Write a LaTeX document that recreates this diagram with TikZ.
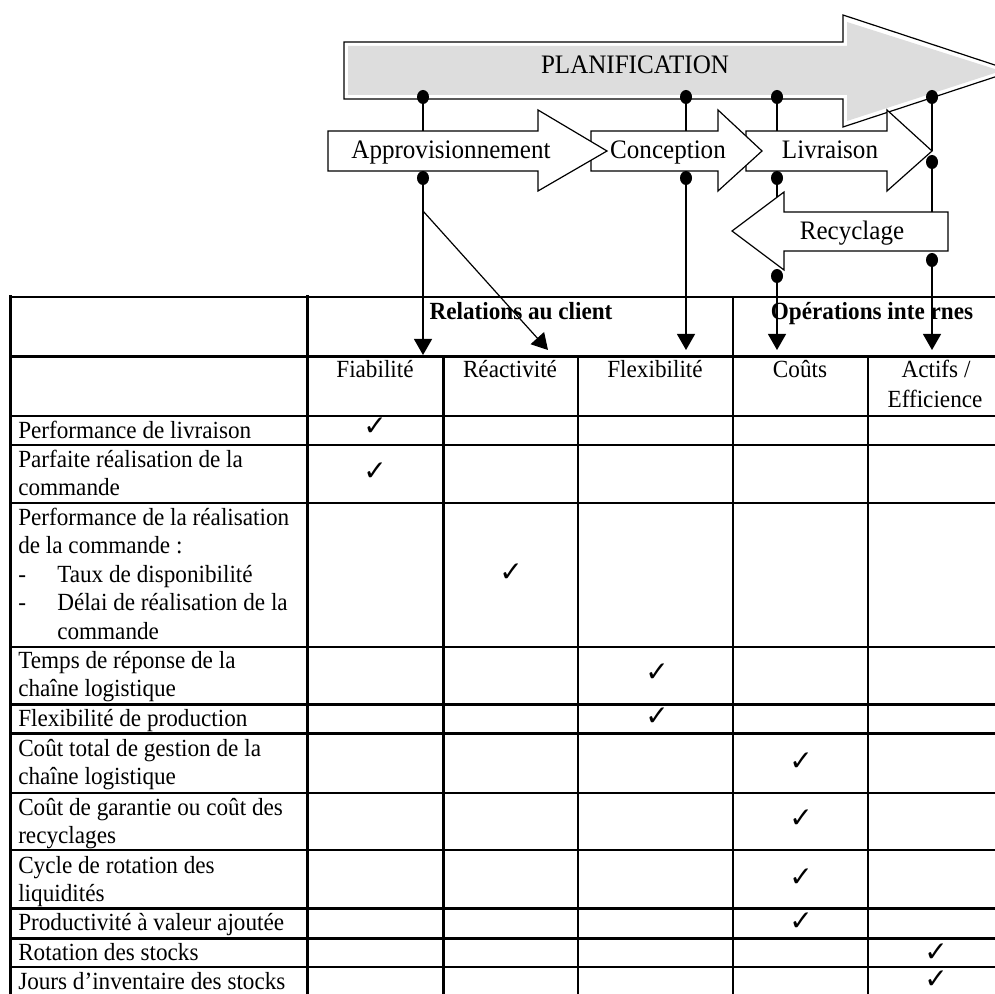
\documentclass[tikz,border=0pt]{standalone}
\usepackage{fontspec}
\setmainfont{Liberation Serif}[FakeStretch=0.94]
\newfontfamily\checkfont{DejaVu Sans}
\usetikzlibrary{arrows.meta,shapes.geometric}
\definecolor{planfill}{RGB}{221,221,221}

\begin{document}
\begin{tikzpicture}[x=0.75pt,y=-0.75pt,
  thinrule/.style={line width=1.5pt,line cap=rect},
  thickrule/.style={line width=2.25pt,line cap=rect},
  flowarrow/.style={draw=black,line width=0.9pt,fill=white,line join=miter},
  planarrow/.style={draw=black,line width=0.9pt,line join=miter},
  arrowtext/.style={inner sep=0pt,anchor=base,font=\fontsize{20}{24}\selectfont},
  cell/.style={inner sep=0pt,anchor=base west,font=\fontsize{18.5}{21}\selectfont},
  colhead/.style={inner sep=0pt,anchor=base,font=\fontsize{18.5}{21}\selectfont},
  grouphead/.style={inner sep=0pt,anchor=base,font=\bfseries\fontsize{18.5}{21}\selectfont},
  tick/.style={inner sep=0pt,font=\checkfont\fontsize{21}{21}\selectfont},
  joint/.style={ellipse,fill=black,inner sep=0pt,minimum width=9pt,minimum height=10.5pt},
  link/.style={line width=0.9pt},
  feed/.style={line width=0.9pt,-{Triangle[length=12pt,width=13.5pt]}},
]
\useasboundingbox (0,0) rectangle (995,994);
\clip (0,0) rectangle (995,994);

% ---------- table grid ----------
\foreach \yy in {297,416,445,503,647,793,850,967}
  \draw[thinrule] (10,\yy) -- (1002,\yy);
\foreach \yy in {357,704,733,908,938}
  \draw[thickrule] (10,\yy) -- (1002,\yy);
\draw[thickrule] (10,297) -- (10,1000);
\draw[thickrule] (307,297) -- (307,1000);
\draw[thickrule] (443,357) -- (443,1000);
\draw[thinrule] (578,357) -- (578,1000);
\draw[thinrule] (733,297) -- (733,1000);
\draw[thinrule] (868,357) -- (868,1000);
\draw[thinrule] (1002,297) -- (1002,1000);

% ---------- table headings ----------
\node[grouphead] (grpclient) at (521,320) {Relations au client};
\node[grouphead] (grpinternal) at (872,320) {Opérations inte rnes};
\node[colhead] (hfiab) at (375,378) {Fiabilité};
\node[colhead] (hreact) at (510,378) {Réactivité};
\node[colhead] (hflex) at (655,378) {Flexibilité};
\node[colhead] (hcout) at (800,378) {Coûts};
\node[colhead] (hactif) at (936,378) {Actifs /};
\node[colhead] (heff) at (935,407) {Efficience};

% ---------- indicators ----------
\node[cell] (t1) at (18,438) {Performance de livraison};
\node[cell] (t2a) at (18,467) {Parfaite réalisation de la};
\node[cell] (t2b) at (18,495.5) {commande};
\node[cell] (t3a) at (18,525) {Performance de la réalisation};
\node[cell] (t3b) at (18,553.5) {de la commande :};
\node[cell] (t3c) at (18,582) {-};
\node[cell] (t3d) at (57,582) {Taux de disponibilité};
\node[cell] (t3e) at (18,610.5) {-};
\node[cell] (t3f) at (57,610.5) {Délai de réalisation de la};
\node[cell] (t3g) at (57,639) {commande};
\node[cell] (t4a) at (18,668) {Temps de réponse de la};
\node[cell] (t4b) at (18,696.5) {chaîne logistique};
\node[cell] (t5) at (18,726) {Flexibilité de production};
\node[cell] (t6a) at (18,756) {Coût total de gestion de la};
\node[cell] (t6b) at (18,784.5) {chaîne logistique};
\node[cell] (t7a) at (18,815) {Coût de garantie ou coût des};
\node[cell] (t7b) at (18,843.5) {recyclages};
\node[cell] (t8a) at (18,873) {Cycle de rotation des};
\node[cell] (t8b) at (18,901.5) {liquidités};
\node[cell] (t9) at (18,930) {Productivité à valeur ajoutée};
\node[cell] (t10) at (18,960) {Rotation des stocks};
\node[cell] (t11) at (18,989) {Jours d’inventaire des stocks};

% ---------- ticks ----------
\node[tick] (k1) at (375,427) {✓};
\node[tick] (k2) at (375,472) {✓};
\node[tick] (k3) at (511,573) {✓};
\node[tick] (k4) at (657,673) {✓};
\node[tick] (k5) at (657,717) {✓};
\node[tick] (k6) at (801,762) {✓};
\node[tick] (k7) at (801,819) {✓};
\node[tick] (k8) at (801,878) {✓};
\node[tick] (k9) at (801,922) {✓};
\node[tick] (k10) at (936,953) {✓};
\node[tick] (k11) at (936,980) {✓};

% ---------- process arrows ----------
\fill[white] (344,42) -- (843,42) -- (843,15) -- (1013,71) -- (843,127) -- (843,99) -- (344,99) -- cycle;
\fill[planfill] (348,46) -- (847,46) -- (847,22) -- (1001,71) -- (847,121) -- (847,95) -- (348,95) -- cycle;
\draw[planarrow] (344,42) -- (843,42) -- (843,15) -- (1013,71) -- (843,127) -- (843,99) -- (344,99) -- cycle;
\node[arrowtext] (plan) at (635,74) {PLANIFICATION};

\draw[flowarrow] (746,131) -- (887,131) -- (887,110) -- (932,151) -- (887,191) -- (887,171) -- (746,171) -- cycle;
\draw[flowarrow] (591,131) -- (718,131) -- (718,110) -- (762,151) -- (718,191) -- (718,171) -- (591,171) -- cycle;
\draw[flowarrow] (328,131) -- (538,131) -- (538,110) -- (607,151) -- (538,191) -- (538,171) -- (328,171) -- cycle;
\draw[flowarrow] (948,212) -- (784,212) -- (784,192) -- (732,231) -- (784,270) -- (784,251) -- (948,251) -- cycle;

\node[arrowtext] (appro) at (451,159) {Approvisionnement};
\node[arrowtext] (conc) at (668,159) {Conception};
\node[arrowtext] (livr) at (830,159) {Livraison};
\node[arrowtext] (recy) at (852,240) {Recyclage};

% ---------- connection points ----------
\coordinate (approtop) at (423,131);
\coordinate (conctop) at (686,131);
\coordinate (livrtop) at (777,131);
\coordinate (livrtip) at (932,151);
\coordinate (recytop) at (932,212);
\coordinate (recyhead) at (777,197);
\coordinate (split) at (423,211);
\coordinate (tofiab) at (423,355);
\coordinate (toreact) at (548,350);
\coordinate (toflex) at (686,350);
\coordinate (tocout) at (777,350);
\coordinate (toactif) at (932,350);

\node[joint] (p1) at (423,97) {};
\node[joint] (p2) at (686,97) {};
\node[joint] (p3) at (777,97) {};
\node[joint] (p4) at (932,97) {};
\node[joint] (a1) at (423,178) {};
\node[joint] (c1) at (686,178) {};
\node[joint] (l1) at (777,178) {};
\node[joint] (l2) at (932,162) {};
\node[joint] (r1) at (777,276) {};
\node[joint] (r2) at (932,260) {};

\draw[link] (p1) -- (approtop);
\draw[link] (p2) -- (conctop);
\draw[link] (p3) -- (livrtop);
\draw[link] (p4) -- (livrtip);
\draw[link] (l2) -- (recytop);
\draw[link] (l1) -- (recyhead);

\draw[feed] (a1) -- (tofiab);
\draw[feed] (split) -- (toreact);
\draw[feed] (c1) -- (toflex);
\draw[feed] (r1) -- (tocout);
\draw[feed] (r2) -- (toactif);
\end{tikzpicture}
\end{document}
